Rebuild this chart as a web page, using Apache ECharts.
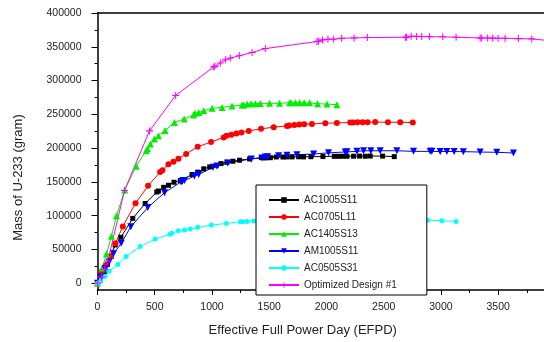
<!DOCTYPE html>
<html>
<head>
<meta charset="utf-8">
<script src="https://cdn.jsdelivr.net/npm/echarts@6/dist/echarts.min.js"></script>
<style>
html,body{margin:0;padding:0;background:#fff;}
#chart{width:544px;height:342px;}
</style>
</head>
<body>
<div id="chart"></div>
<script>
// ---- data (EFPD, grams) ----
const ac1005s11 = [[0,0],[25,4500],[58,16600],[87,28000],[119,39600],[154,56700],[204,68000],[308,96000],[416,118000],[518,135000],[532,136500],[578,142000],[620,145000],[668,149500],[724,152000],[742,153600],[826,161000],[875,164400],[928,169300],[980,172200],[1038,174700],[1079,177100],[1131,179100],[1183,180600],[1241,182100],[1329,184000],[1431,185900],[1466,185500],[1510,185800],[1562,186900],[1620,186800],[1655,187000],[1699,187000],[1757,187200],[1800,187000],[1864,187300],[1969,187500],[2068,187900],[2106,187900],[2144,188000],[2179,188000],[2237,188000],[2289,188200],[2339,188000],[2382,188300],[2490,188200],[2592,187400]];
const ac0705l11 = [[0,0],[32,16600],[72,26400],[113,40100],[157,59200],[221,84100],[332,118400],[442,144300],[547,164500],[567,167400],[620,176000],[664,180000],[707,184400],[774,191300],[875,202000],[992,209000],[1102,215800],[1126,218200],[1169,219700],[1213,221700],[1257,223200],[1321,225500],[1428,228500],[1539,231000],[1655,232900],[1675,233300],[1719,234400],[1763,234800],[1806,235200],[1873,235800],[1990,236900],[2091,237300],[2208,237900],[2232,238000],[2271,238200],[2315,238300],[2359,238300],[2426,238500],[2537,238400],[2644,238300],[2754,237800]];
const ac1405s13 = [[0,0],[41,22500],[79,43500],[122,69500],[166,99800],[238,138000],[338,173300],[425,196200],[436,199100],[462,206000],[497,213400],[532,218200],[590,226100],[672,237900],[757,243200],[838,249000],[852,251500],[884,252600],[928,255500],[1001,258900],[1088,260300],[1175,262200],[1262,263700],[1277,264000],[1306,265200],[1341,265500],[1379,265800],[1422,266200],[1503,266300],[1590,266300],[1678,267200],[1690,267300],[1730,267200],[1765,267200],[1806,267100],[1853,267000],[1922,265700],[2004,265200],[2091,264300]];
const am1005s11 = [[0,0],[29,9300],[67,21500],[102,31300],[140,43500],[207,59200],[291,83700],[439,112000],[585,134000],[730,150000],[742,151000],[760,152000],[846,158600],[884,161000],[1009,171800],[1044,173300],[1137,178100],[1344,184000],[1437,185500],[1466,186900],[1486,187200],[1582,188800],[1655,189500],[1742,190300],[1888,191300],[2018,193000],[2164,194300],[2179,194500],[2266,195200],[2324,196000],[2388,196100],[2469,196100],[2615,196100],[2760,195200],[2906,195200],[2920,195200],[2993,195000],[3051,195000],[3115,194900],[3196,194800],[3342,194200],[3488,193800],[3633,192800]];
const ac0505s31 = [[0,0],[29,4000],[67,10300],[102,17600],[177,27900],[250,39600],[372,54300],[503,65500],[634,72400],[648,73900],[705,77800],[760,78700],[810,80200],[875,82700],[995,86100],[1126,88500],[1248,91000],[1268,91200],[1306,91500],[1364,92000],[1500,92500],[1700,93000],[2000,93500],[2300,93800],[2600,93700],[2830,93500],[2883,93400],[3008,92500],[3132,91500]];
const optimized1 = [[0,0],[35,9000],[64,20500],[90,33000],[236,137400],[454,225500],[683,278000],[1015,320100],[1025,321000],[1073,326000],[1117,330800],[1160,333300],[1239,336700],[1350,341600],[1466,347400],[1917,357700],[1930,358200],[1966,360200],[2013,361200],[2060,361200],[2133,362700],[2241,363100],[2357,363600],[2689,364100],[2700,364200],[2740,365600],[2788,365400],[2832,365200],[2899,365000],[3016,364700],[3132,364100],[3342,363100],[3355,363000],[3408,362900],[3452,362800],[3499,362700],[3560,362700],[3676,362100],[3793,361700],[3950,359000]];

const seriesNames = ['AC1005S11','AC0705L11','AC1405S13','AM1005S11','AC0505S31','Optimized Design #1'];
const xMajorTicks = [0,500,1000,1500,2000,2500,3000,3500];
const xMinorTicks = [250,750,1250,1750,2250,2750,3250,3750];
const yMajorTicks = [0,50000,100000,150000,200000,250000,300000,350000,400000];
const yMinorTicks = [25000,75000,125000,175000,225000,275000,325000,375000];
const xTitle = 'Effective Full Power Day (EFPD)';
const yTitle = 'Mass of U-233 (gram)';

const FONT = '"Liberation Sans", Arial, sans-serif';
const plus = 'path://M0,4.25H10V5.75H0ZM4.25,0H5.75V10H4.25Z';
const plain = function (v) { return String(v); };

function mk(name, data, color, symbol, size, rot) {
  return {
    name: name, type: 'line', data: data, xAxisIndex: 0, yAxisIndex: 0,
    symbol: symbol, symbolSize: size, symbolRotate: rot || 0,
    showAllSymbol: true, clip: true, animation: false,
    lineStyle: {color: color, width: 1},
    itemStyle: {color: color, borderWidth: 0}
  };
}

const chart = echarts.init(document.getElementById('chart'), null, {renderer: 'canvas'});
chart.setOption({
  animation: false,
  backgroundColor: '#fff',
  textStyle: {fontFamily: FONT},
  grid: {left: 97.5, right: 0, top: 13, bottom: 49, containLabel: false},
  legend: {
    orient: 'vertical', left: 256, top: 185,
    data: seriesNames,
    backgroundColor: '#fff', borderColor: '#000', borderWidth: 1, borderRadius: 0,
    padding: [9, 30, 4, 12],
    itemWidth: 30, itemHeight: 7, itemGap: 5,
    textStyle: {fontFamily: FONT, fontSize: 10, color: '#222', lineHeight: 12}
  },
  xAxis: [
    {
      type: 'value', min: 0, max: 3900, position: 'bottom',
      name: xTitle, nameLocation: 'middle', nameGap: 34,
      nameTextStyle: {fontFamily: FONT, fontSize: 13, color: '#222', padding: [0, 36, 0, 0]},
      axisLine: {show: true, onZero: false, lineStyle: {color: '#000', width: 1.5}},
      axisTick: {show: true, inside: false, length: 5, customValues: xMajorTicks, lineStyle: {color: '#000', width: 1}},
      axisLabel: {show: true, margin: 12, customValues: xMajorTicks, formatter: plain, fontFamily: FONT, fontSize: 10.5, color: '#222'},
      splitLine: {show: false}
    },
    {
      type: 'value', min: 0, max: 3900, position: 'bottom', offset: 0,
      axisLine: {show: false, onZero: false},
      axisTick: {show: true, length: 3, customValues: xMinorTicks, lineStyle: {color: '#000', width: 1}},
      axisLabel: {show: false}, splitLine: {show: false}
    },
    {
      type: 'value', min: 0, max: 3900, position: 'top', offset: 0,
      axisLine: {show: true, onZero: false, lineStyle: {color: '#000', width: 1.5}},
      axisTick: {show: false}, axisLabel: {show: false}, splitLine: {show: false}
    }
  ],
  yAxis: [
    {
      type: 'value', min: -10000, max: 400000, position: 'left',
      name: yTitle, nameLocation: 'middle', nameGap: 73,
      nameTextStyle: {fontFamily: FONT, fontSize: 13, color: '#222', padding: [0, 52, 0, 0]},
      axisLine: {show: true, onZero: false, lineStyle: {color: '#000', width: 1.5}},
      axisTick: {show: true, inside: false, length: 6, customValues: yMajorTicks, lineStyle: {color: '#000', width: 1}},
      axisLabel: {show: true, margin: 16, customValues: yMajorTicks, formatter: plain, fontFamily: FONT, fontSize: 10.5, color: '#222'},
      splitLine: {show: false}
    },
    {
      type: 'value', min: -10000, max: 400000, position: 'left', offset: 0,
      axisLine: {show: false, onZero: false},
      axisTick: {show: true, length: 3, customValues: yMinorTicks, lineStyle: {color: '#000', width: 1}},
      axisLabel: {show: false}, splitLine: {show: false}
    }
  ],
  series: [
    mk(seriesNames[0], ac1005s11, '#000000', 'rect', 5),
    mk(seriesNames[1], ac0705l11, '#ff0000', 'circle', 6),
    mk(seriesNames[2], ac1405s13, '#00ee00', 'triangle', 7),
    mk(seriesNames[3], am1005s11, '#0000ff', 'triangle', 7, 180),
    mk(seriesNames[4], ac0505s31, '#00ffff', 'circle', 5),
    mk(seriesNames[5], optimized1, '#ff00ff', plus, 7)
  ]
});
</script>
</body>
</html>
